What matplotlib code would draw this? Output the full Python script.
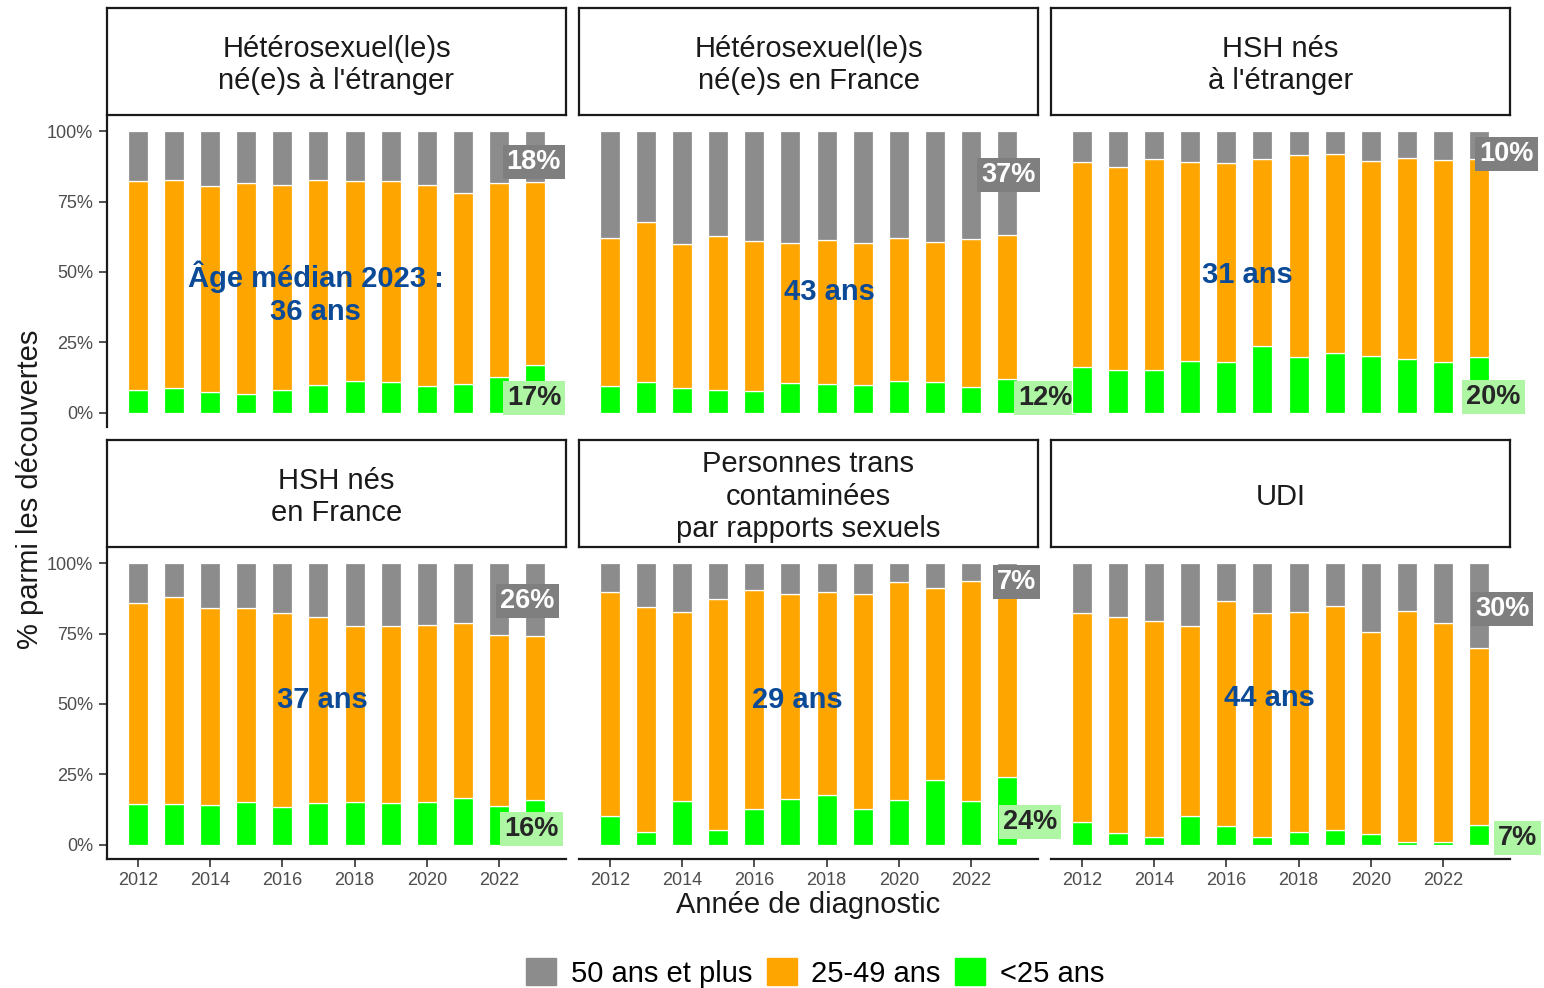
import matplotlib
matplotlib.use("Agg")
import matplotlib.pyplot as plt
from matplotlib.patches import Patch
from matplotlib.ticker import PercentFormatter
import numpy as np

plt.rcParams['font.family'] = ['Liberation Sans', 'DejaVu Sans']

years = np.arange(2012, 2024)

groups = [
    "Hétérosexuel(le)s\nné(e)s à l'étranger",
    "Hétérosexuel(le)s\nné(e)s en France",
    "HSH nés\nà l'étranger",
    "HSH nés\nen France",
    "Personnes trans\ncontaminées\npar rapports sexuels",
    "UDI",
]

# % of new diagnoses per age class, one row per group, 2012 -> 2023
pct_lt25 = [
    [8.3, 8.8, 7.5, 6.7, 8.0, 10.0, 11.2, 10.8, 9.4, 10.2, 12.6, 17],
    [9.5, 11.0, 8.8, 8.1, 7.8, 10.6, 10.2, 9.9, 11.3, 11.0, 9.3, 12],
    [16.2, 15.1, 15.1, 18.3, 17.9, 23.8, 19.7, 21.4, 20.1, 19.2, 17.9, 20],
    [14.6, 14.4, 14.0, 15.3, 13.6, 14.8, 15.2, 14.7, 15.2, 16.8, 13.9, 16],
    [10.1, 4.5, 15.7, 5.3, 12.9, 16.4, 17.8, 12.6, 15.8, 22.9, 15.7, 24],
    [8.1, 4.2, 2.7, 10.3, 6.6, 2.7, 4.7, 5.3, 3.8, 1.2, 0.9, 7],
]
pct_25_49 = [
    [74.0, 74.0, 73.0, 74.8, 73.0, 72.7, 71.1, 71.5, 71.6, 67.7, 68.9, 65],
    [52.6, 56.7, 51.3, 54.6, 53.1, 49.6, 51.0, 50.3, 50.6, 49.5, 52.3, 51],
    [73.0, 72.3, 75.0, 70.8, 70.9, 66.3, 71.7, 70.3, 69.4, 71.1, 71.9, 70],
    [71.4, 73.4, 70.1, 68.7, 68.8, 65.9, 62.5, 63.1, 63.0, 62.1, 60.7, 58],
    [79.5, 79.8, 66.9, 82.0, 77.7, 72.7, 71.9, 76.6, 77.6, 68.4, 77.9, 69],
    [74.3, 76.7, 76.9, 67.3, 80.0, 79.5, 78.1, 79.3, 71.8, 81.7, 77.7, 63],
]
pct_50plus = [
    [17.7, 17.2, 19.5, 18.5, 19.0, 17.3, 17.7, 17.7, 19.0, 22.1, 18.5, 18],
    [37.9, 32.3, 39.9, 37.3, 39.1, 39.8, 38.8, 39.8, 38.1, 39.5, 38.4, 37],
    [10.8, 12.6, 9.9, 10.9, 11.2, 9.9, 8.6, 8.3, 10.5, 9.7, 10.2, 10],
    [14.0, 12.2, 15.9, 16.0, 17.6, 19.3, 22.3, 22.2, 21.8, 21.1, 25.4, 26],
    [10.4, 15.7, 17.4, 12.7, 9.4, 10.9, 10.3, 10.8, 6.6, 8.7, 6.4, 7],
    [17.6, 19.1, 20.4, 22.4, 13.4, 17.8, 17.2, 15.4, 24.4, 17.1, 21.4, 30],
]
median_age = ["Âge médian 2023 :\n36 ans", "43 ans", "31 ans", "37 ans", "29 ans", "44 ans"]

# where the annotations sit (x in years, y as share)
median_pos = [(2016.93, 0.425), (2018.07, 0.43), (2016.57, 0.49),
              (2017.1, 0.514), (2017.18, 0.514), (2017.2, 0.52)]
top_lab_pos = [(2022.96, 0.89), (2023.03, 0.844), (2023.75, 0.92),
               (2022.78, 0.865), (2023.25, 0.933), (2023.63, 0.837)]
bot_lab_pos = [(2022.97, 0.053), (2024.05, 0.053), (2023.39, 0.057),
               (2022.89, 0.057), (2023.63, 0.08), (2024.05, 0.025)]

c_old, c_mid, c_young = '#8C8C8C', '#FFA500', '#00FF00'
blue = '#0B4A97'
tick_col = '#4D4D4D'

W, H = 1544, 988
fig = plt.figure(figsize=(W / 100, H / 100), dpi=100)

col_left = [107, 579, 1051]
panel_w = 459
row_panel = [(117, 427), (549, 859)]
row_strip = [(8, 115), (440, 547)]

for i, name in enumerate(groups):
    r, c = divmod(i, 3)
    x0 = col_left[c]
    top, bot = row_panel[r]
    ax = fig.add_axes([x0 / W, (H - bot) / H, panel_w / W, (bot - top) / H])
    ax.patch.set_visible(False)

    lt25 = np.array(pct_lt25[i]) / 100
    mid = np.array(pct_25_49[i]) / 100
    old = np.array(pct_50plus[i]) / 100
    kw = dict(width=0.55, edgecolor='white', linewidth=0.9)
    ax.bar(years, lt25, color=c_young, **kw)
    ax.bar(years, mid, bottom=lt25, color=c_mid, **kw)
    ax.bar(years, old, bottom=lt25 + mid, color=c_old, **kw)

    ax.set_xlim(2011.15, 2023.85)
    ax.set_ylim(-0.05, 1.05)
    ax.set_xticks(range(2012, 2023, 2))
    ax.set_yticks([0, 0.25, 0.5, 0.75, 1.0])
    ax.yaxis.set_major_formatter(PercentFormatter(1.0, decimals=0))
    for s in ['top', 'right']:
        ax.spines[s].set_visible(False)
    ax.spines['left'].set_visible(c == 0)
    ax.spines['bottom'].set_visible(r == 1)
    for s in ['left', 'bottom']:
        ax.spines[s].set_linewidth(1.6)
        ax.spines[s].set_color('#1A1A1A')
    ax.tick_params(axis='y', left=(c == 0), labelleft=(c == 0), length=6,
                   width=1.2, color='#333333', labelsize=13, labelcolor=tick_col, pad=4)
    ax.tick_params(axis='x', bottom=(r == 1), labelbottom=(r == 1), length=6,
                   width=1.2, color='#333333', labelsize=13, labelcolor=tick_col, pad=3)

    ax.text(*median_pos[i], median_age[i], ha='center', va='center', color=blue,
            fontsize=21, fontweight='bold', linespacing=1.25, zorder=6)

    ax.text(*top_lab_pos[i], f"{pct_50plus[i][-1]:.0f}%", ha='center', va='center',
            color='white', fontsize=19.5, fontweight='bold', clip_on=False, zorder=5,
            bbox=dict(boxstyle='square,pad=0.15', fc='#7F7F7F', ec='none'))
    ax.text(*bot_lab_pos[i], f"{pct_lt25[i][-1]:.0f}%", ha='center', va='center',
            color='#262626', fontsize=19.5, fontweight='bold', clip_on=False, zorder=5,
            bbox=dict(boxstyle='square,pad=0.15', fc='#AEF5A4', ec='none'))

    # facet strip
    s_top, s_bot = row_strip[r]
    sax = fig.add_axes([x0 / W, (H - s_bot) / H, panel_w / W, (s_bot - s_top) / H])
    sax.set_xticks([])
    sax.set_yticks([])
    for sp in sax.spines.values():
        sp.set_linewidth(1.6)
        sp.set_color('#1A1A1A')
    sax.text(0.5, 0.47, name, ha='center', va='center', fontsize=21,
             color='#1A1A1A', linespacing=1.2, transform=sax.transAxes)

fig.text(808 / W, (H - 905) / H, "Année de diagnostic", ha='center', va='center',
         fontsize=21, color='#1A1A1A')
fig.text(30 / W, (H - 489) / H, "% parmi les découvertes", ha='center', va='center',
         rotation=90, fontsize=21, color='#1A1A1A')

handles = [Patch(color=c_old), Patch(color=c_mid), Patch(color=c_young)]
fig.legend(handles, ["50 ans et plus", "25-49 ans", "<25 ans"], loc='center',
           bbox_to_anchor=(815 / W, (H - 973) / H), ncol=3, frameon=False,
           fontsize=21, handlelength=1.03, handleheight=1.03,
           handletextpad=0.5, columnspacing=0.5, borderpad=0)

fig.savefig("out.png", dpi=100, facecolor='white')
